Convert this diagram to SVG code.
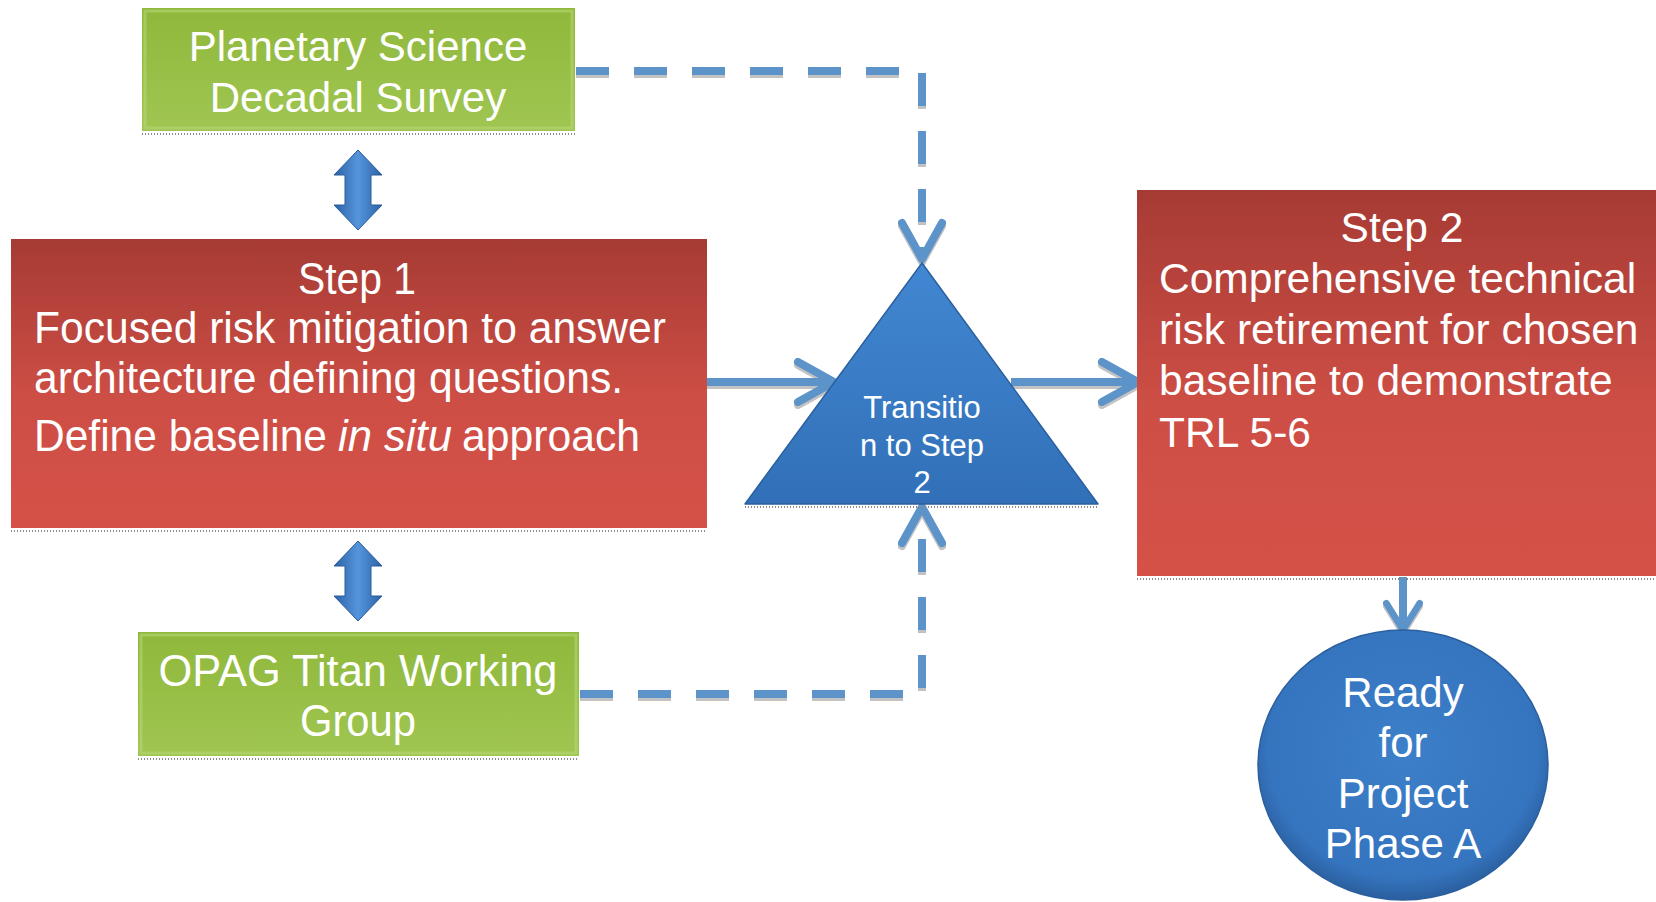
<svg xmlns="http://www.w3.org/2000/svg" width="1656" height="902" viewBox="0 0 1656 902">
<style>
  .lbl { font-family: "Liberation Sans", Arial, sans-serif; fill: #ffffff; }
  .narrow { font-family: "Liberation Sans Narrow", "Liberation Sans", Arial, sans-serif; fill: #ffffff; }
  .conn { fill: none; stroke: #5b93c9; stroke-width: 8; }
  .dash { stroke-dasharray: 33 25; }
  .shade { fill: none; stroke: #8a8a8a; stroke-width: 2; stroke-dasharray: 1 2; }
</style>
<defs>
  <linearGradient id="gGreen" x1="0" y1="0" x2="0" y2="1">
    <stop offset="0" stop-color="#8fb83b"/>
    <stop offset="1" stop-color="#a0c652"/>
  </linearGradient>
  <linearGradient id="gRed" x1="0" y1="0" x2="0" y2="1">
    <stop offset="0" stop-color="#a63b34"/>
    <stop offset="0.55" stop-color="#cd4e45"/>
    <stop offset="1" stop-color="#d55148"/>
  </linearGradient>
  <linearGradient id="gBlue" x1="0" y1="0" x2="0" y2="1">
    <stop offset="0" stop-color="#4287d2"/>
    <stop offset="1" stop-color="#3170b8"/>
  </linearGradient>
  <radialGradient id="gBall" cx="0.5" cy="0.45" r="0.55">
    <stop offset="0" stop-color="#3d7fc9"/>
    <stop offset="0.85" stop-color="#3574be"/>
    <stop offset="1" stop-color="#2a5f9f"/>
  </radialGradient>
  <linearGradient id="gDbl" x1="0" y1="0" x2="1" y2="0">
    <stop offset="0" stop-color="#2c62a6"/>
    <stop offset="0.5" stop-color="#5595dc"/>
    <stop offset="1" stop-color="#2c62a6"/>
  </linearGradient>
  <marker id="head" viewBox="0 0 48 48" refX="42" refY="24" markerWidth="48" markerHeight="48" markerUnits="userSpaceOnUse" orient="auto">
    <path d="M6,4 L42,24 L6,44" fill="none" stroke="#5b93c9" stroke-width="8" stroke-linecap="round" stroke-linejoin="round" stroke-dasharray="none"/>
  </marker>
  <marker id="headS" viewBox="0 0 48 48" refX="42" refY="24" markerWidth="40" markerHeight="40" markerUnits="userSpaceOnUse" orient="auto">
    <path d="M10,4 L42,24 L10,44" fill="none" stroke="#5b93c9" stroke-width="8" stroke-linecap="round" stroke-linejoin="round" stroke-dasharray="none"/>
  </marker>
  <filter id="lineShadow" x="-10%" y="-10%" width="120%" height="120%">
    <feDropShadow dx="0" dy="3" stdDeviation="0.6" flood-color="#9a9a9a" flood-opacity="0.6"/>
  </filter>
</defs>
<rect width="1656" height="902" fill="#ffffff"/>

<g id="connectors" filter="url(#lineShadow)">
  <path class="conn dash" d="M576,71 H922 V259" marker-end="url(#head)"/>
  <path class="conn dash" d="M580,694 H922 V507" marker-end="url(#head)"/>
  <path class="conn" d="M707,382 H834" marker-end="url(#head)"/>
  <path class="conn" d="M1011,382 H1138" marker-end="url(#head)"/>
  <path class="conn" d="M1403,577 V630" marker-end="url(#headS)"/>
</g>

<g id="dbl-arrow-1">
  <path d="M358,150 L382,175 L371,175 L371,205 L382,205 L358,230 L334,205 L345,205 L345,175 L334,175 Z" fill="url(#gDbl)" stroke="#2a5c9a" stroke-width="1"/>
</g>
<g id="dbl-arrow-2">
  <path d="M358,541 L382,566 L371,566 L371,596 L382,596 L358,621 L334,596 L345,596 L345,566 L334,566 Z" fill="url(#gDbl)" stroke="#2a5c9a" stroke-width="1"/>
</g>

<g id="node-decadal">
  <rect x="142" y="8" width="433" height="123" fill="url(#gGreen)"/>
  <rect x="145" y="11" width="427" height="117" fill="none" stroke="#b5d574" stroke-width="3" stroke-opacity="0.6"/>
  <line class="shade" x1="142" y1="134" x2="575" y2="134"/>
  <text class="lbl" x="358" y="61" font-size="42" text-anchor="middle">Planetary Science</text>
  <text class="lbl" x="358" y="112" font-size="42" text-anchor="middle">Decadal Survey</text>
</g>

<g id="node-step1">
  <rect x="11" y="239" width="696" height="289" fill="url(#gRed)"/>
  <line class="shade" x1="11" y1="531" x2="707" y2="531"/>
  <text class="narrow" x="357" y="294" font-size="45" text-anchor="middle" textLength="118" lengthAdjust="spacingAndGlyphs">Step 1</text>
  <text class="narrow" x="34" y="343" font-size="45" textLength="632" lengthAdjust="spacingAndGlyphs">Focused risk mitigation to answer</text>
  <text class="narrow" x="34" y="393" font-size="45" textLength="589" lengthAdjust="spacingAndGlyphs">architecture defining questions.</text>
  <text class="narrow" x="34" y="451" font-size="45" textLength="293" lengthAdjust="spacingAndGlyphs">Define baseline</text>
  <text class="narrow" x="338" y="451" font-size="45" font-style="italic" textLength="114" lengthAdjust="spacingAndGlyphs">in situ</text>
  <text class="narrow" x="462" y="451" font-size="45" textLength="178" lengthAdjust="spacingAndGlyphs">approach</text>
</g>

<g id="node-opag">
  <rect x="138" y="632" width="441" height="124" fill="url(#gGreen)"/>
  <rect x="141" y="635" width="435" height="118" fill="none" stroke="#b5d574" stroke-width="3" stroke-opacity="0.6"/>
  <line class="shade" x1="138" y1="759" x2="579" y2="759"/>
  <text class="narrow" x="358" y="686" font-size="45" text-anchor="middle" textLength="399" lengthAdjust="spacingAndGlyphs">OPAG Titan Working</text>
  <text class="narrow" x="358" y="736" font-size="45" text-anchor="middle" textLength="116" lengthAdjust="spacingAndGlyphs">Group</text>
</g>

<g id="node-transition">
  <polygon points="922,263 1098,504 745,504" fill="url(#gBlue)" stroke="#2b5f9e" stroke-width="1.5" stroke-linejoin="round"/>
  <line class="shade" x1="745" y1="507" x2="1098" y2="507"/>
  <text class="lbl" x="922" y="418" font-size="31" text-anchor="middle">Transitio</text>
  <text class="lbl" x="922" y="456" font-size="31" text-anchor="middle">n to Step</text>
  <text class="lbl" x="922" y="493" font-size="31" text-anchor="middle">2</text>
</g>

<g id="node-step2">
  <rect x="1137" y="190" width="519" height="386" fill="url(#gRed)"/>
  <line class="shade" x1="1137" y1="579" x2="1656" y2="579"/>
  <text class="lbl" x="1402" y="242" font-size="42.5" text-anchor="middle">Step 2</text>
  <text class="lbl" x="1159" y="293" font-size="42.5">Comprehensive technical</text>
  <text class="lbl" x="1159" y="344" font-size="42.5">risk retirement for chosen</text>
  <text class="lbl" x="1159" y="395" font-size="42.5">baseline to demonstrate</text>
  <text class="lbl" x="1159" y="447" font-size="42.5">TRL 5-6</text>
</g>

<g id="node-ready">
  <ellipse cx="1403" cy="765" rx="145" ry="135" fill="url(#gBall)" stroke="#2b5f9e" stroke-width="1.5"/>
  <text class="lbl" x="1403" y="707" font-size="42" text-anchor="middle">Ready</text>
  <text class="lbl" x="1403" y="757" font-size="42" text-anchor="middle">for</text>
  <text class="lbl" x="1403" y="808" font-size="42" text-anchor="middle">Project</text>
  <text class="lbl" x="1403" y="858" font-size="42" text-anchor="middle">Phase A</text>
</g>
</svg>
